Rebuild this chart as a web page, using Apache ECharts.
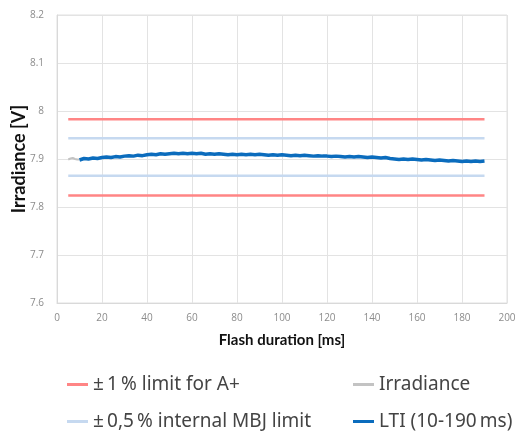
<!DOCTYPE html>
<html>
<head>
<meta charset="utf-8">
<script src="https://cdn.jsdelivr.net/npm/echarts@6/dist/echarts.min.js"></script>
<style>
  html, body { margin: 0; padding: 0; background: #fff; }
  #chart { width: 517px; height: 434px; }
</style>
</head>
<body>
<div id="chart"></div>
<script>
// limit lines span the full flash
const limitTime = [5, 190]
const limitA1Upper = [7.983, 7.983]
const limitA1Lower = [7.824, 7.824]
const limitMbjUpper = [7.943, 7.943]
const limitMbjLower = [7.865, 7.865]

// raw irradiance before the LTI window
const irrTime = [5, 6, 7, 8, 9, 10]
const irrValues = [7.899, 7.901, 7.902, 7.900, 7.899, 7.899]

// LTI (10-190 ms)
const ltiTime = [
  10, 12, 14, 16, 18, 20, 22, 24, 26, 28, 30, 32, 34, 36, 38, 40, 42, 44, 46, 48,
  50, 52, 54, 56, 58, 60, 62, 64, 66, 68, 70, 72, 74, 76, 78, 80, 82, 84, 86, 88,
  90, 92, 94, 96, 98, 100, 102, 104, 106, 108, 110, 112, 114, 116, 118, 120, 122, 124, 126, 128,
  130, 132, 134, 136, 138, 140, 142, 144, 146, 148, 150, 152, 154, 156, 158, 160, 162, 164, 166, 168,
  170, 172, 174, 176, 178, 180, 182, 184, 186, 188, 190
]
const ltiValues = [
  7.898, 7.901, 7.900, 7.902, 7.901, 7.903, 7.904, 7.903, 7.905, 7.904,
  7.906, 7.907, 7.906, 7.908, 7.907, 7.909, 7.910, 7.909, 7.911, 7.910,
  7.911, 7.912, 7.911, 7.912, 7.911, 7.912, 7.911, 7.912, 7.910, 7.911,
  7.910, 7.911, 7.910, 7.909, 7.910, 7.909, 7.910, 7.909, 7.910, 7.909,
  7.910, 7.909, 7.908, 7.909, 7.908, 7.909, 7.908, 7.907, 7.908, 7.907,
  7.908, 7.907, 7.906, 7.907, 7.906, 7.906, 7.905, 7.906, 7.905, 7.904,
  7.905, 7.904, 7.905, 7.904, 7.903, 7.904, 7.903, 7.902, 7.903, 7.901,
  7.900, 7.899, 7.900, 7.899, 7.900, 7.899, 7.898, 7.899, 7.898, 7.897,
  7.898, 7.897, 7.896, 7.897, 7.896, 7.895, 7.896, 7.895, 7.896, 7.895,
  7.896
]

// narrow no-break spaces, as in the original legend
const names = {
  a1: '±\u202F1\u202F% limit for A+',
  mbj: '±\u202F0,5\u202F% internal MBJ limit',
  irr: 'Irradiance',
  lti: 'LTI (10-190\u202Fms)'
}
const colors = {
  a1: '#ff8585',
  mbj: '#c6d9f0',
  irr: '#c3c3c3',
  lti: '#0b6cbd'
}

const zip = (xs, ys) => xs.map((x, i) => [x, ys[i]])

const lineSeries = (name, data, color, width, z) => ({
  name,
  type: 'line',
  data,
  symbol: 'none',
  z,
  lineStyle: { color, width },
  itemStyle: { color },
  emphasis: { disabled: true },
  animation: false
})

const chart = echarts.init(document.getElementById('chart'))

// one legend per entry so the 2x2 block lines up like the original
const legendItem = (name, left, top) => ({
  left,
  top,
  data: [name],
  itemWidth: 21,
  itemHeight: 3,
  icon: 'rect',
  textStyle: { fontFamily: 'Noto Sans', fontSize: 19, color: '#444' },
  selectedMode: false
})

chart.setOption({
  backgroundColor: '#fff',
  animation: false,
  grid: {
    left: 57,
    right: 10,
    top: 15,
    bottom: 131,
    outerBoundsMode: 'none',
    show: true,
    borderColor: '#e0e0e0',
    borderWidth: 1
  },
  legend: [
    legendItem(names.a1, 62, 370),
    legendItem(names.mbj, 62, 407),
    legendItem(names.irr, 348, 370),
    legendItem(names.lti, 348, 407)
  ],
  xAxis: {
    type: 'value',
    min: 0,
    max: 200,
    interval: 20,
    name: 'Flash duration [ms]',
    nameLocation: 'middle',
    nameGap: 30,
    nameTextStyle: { fontFamily: 'Lato', fontWeight: 'bold', fontSize: 15, color: '#111' },
    axisLine: { show: true, lineStyle: { color: '#d9d9d9' } },
    axisTick: { show: false },
    axisLabel: { fontFamily: 'Open Sans', fontSize: 10, color: '#8c8c8c', margin: 10 },
    splitLine: { show: true, lineStyle: { color: '#e3e3e3' } }
  },
  yAxis: {
    type: 'value',
    min: 7.6,
    max: 8.2,
    interval: 0.1,
    name: 'Irradiance [V]',
    nameLocation: 'middle',
    nameGap: 29,
    nameMoveOverlap: false,
    nameTextStyle: { fontFamily: 'Lato', fontWeight: 'bold', fontSize: 18, color: '#111' },
    axisLine: { show: true, lineStyle: { color: '#d9d9d9' } },
    axisTick: { show: false },
    axisLabel: { fontFamily: 'Open Sans', fontSize: 10, color: '#8c8c8c', margin: 13 },
    splitLine: { show: true, lineStyle: { color: '#e3e3e3' } }
  },
  series: [
    lineSeries(names.a1, zip(limitTime, limitA1Upper), colors.a1, 2.5, 2),
    lineSeries(names.a1, zip(limitTime, limitA1Lower), colors.a1, 2.5, 2),
    lineSeries(names.mbj, zip(limitTime, limitMbjUpper), colors.mbj, 2.5, 2),
    lineSeries(names.mbj, zip(limitTime, limitMbjLower), colors.mbj, 2.5, 2),
    lineSeries(names.irr, zip(irrTime, irrValues), colors.irr, 2, 3),
    lineSeries(names.lti, zip(ltiTime, ltiValues), colors.lti, 3.5, 4)
  ]
})
</script>
</body>
</html>
